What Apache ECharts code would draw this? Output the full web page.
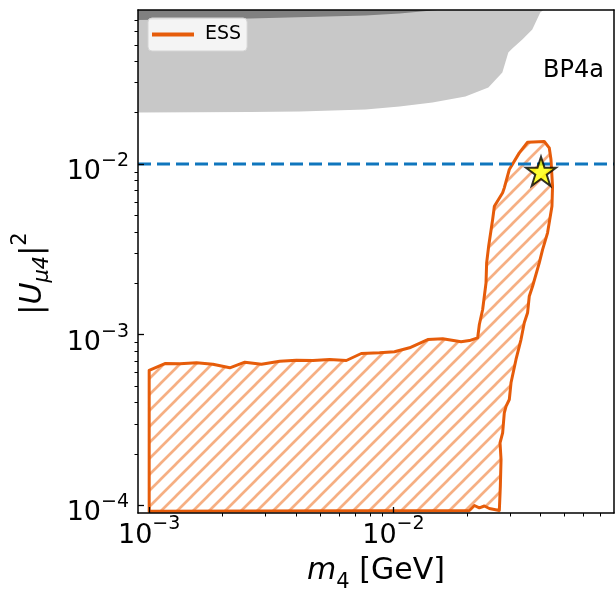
<!DOCTYPE html>
<html>
<head>
<meta charset="utf-8">
<script src="https://cdn.jsdelivr.net/npm/echarts@6/dist/echarts.min.js"></script>
<style>
html,body{margin:0;padding:0;background:#fff;}
#chart{width:616px;height:589px;}
</style>
</head>
<body>
<div id="chart"></div>
<script>
// ---- axis limits (data units) ----
const xLimits = [9e-4, 0.08];
const yLimits = [9e-5, 0.08];
const xMajorTicks = [1e-3, 1e-2];
const yMajorTicks = [1e-4, 1e-3, 1e-2];
const xMinorTicks = [2e-3,3e-3,4e-3,5e-3,6e-3,7e-3,8e-3,9e-3,2e-2,3e-2,4e-2,5e-2,6e-2,7e-2];
const yMinorTicks = [2e-4,3e-4,4e-4,5e-4,6e-4,7e-4,8e-4,9e-4,2e-3,3e-3,4e-3,5e-3,6e-3,7e-3,8e-3,9e-3,2e-2,3e-2,4e-2,5e-2,6e-2,7e-2];

// ---- ESS sensitivity contour (m4 [GeV], |U|^2) ----
const essX = [1.0e-3,1.0e-3,1.16e-3,1.336e-3,1.564e-3,1.823e-3,2.139e-3,2.464e-3,2.882e-3,3.424e-3,4.007e-3,4.685e-3,5.482e-3,6.414e-3,7.386e-3,8.775e-3,1.010e-2,1.164e-2,1.382e-2,1.592e-2,1.892e-2,2.047e-2,2.213e-2,2.248e-2,2.319e-2,2.394e-2,2.408e-2,2.454e-2,2.548e-2,2.590e-2,2.800e-2,2.844e-2,2.982e-2,3.276e-2,3.542e-2,4.146e-2,4.345e-2,4.416e-2,4.482e-2,4.457e-2,4.276e-2,4.080e-2,3.955e-2,3.713e-2,3.599e-2,3.542e-2,3.434e-2,3.329e-2,3.176e-2,3.030e-2,2.982e-2,2.891e-2,2.844e-2,2.800e-2,2.732e-2,2.758e-2,2.740e-2,2.714e-2,2.470e-2,2.357e-2,2.248e-2,2.145e-2,2.047e-2];
const essY = [9.2e-5,6.18e-4,6.77e-4,6.74e-4,6.83e-4,6.71e-4,6.39e-4,6.89e-4,6.71e-4,6.98e-4,7.08e-4,7.05e-4,7.15e-4,7.05e-4,7.75e-4,7.82e-4,7.93e-4,8.37e-4,9.36e-4,9.45e-4,9.08e-4,9.23e-4,9.58e-4,1.146e-3,1.403e-3,2.012e-3,2.636e-3,3.297e-3,4.728e-3,5.657e-3,6.78e-3,7.25e-3,9.29e-3,1.163e-2,1.342e-2,1.355e-2,1.245e-2,1.063e-2,7.41e-3,5.657e-3,3.95e-3,3.15e-3,2.636e-3,1.922e-3,1.679e-3,1.342e-3,1.173e-3,9.36e-4,7.15e-4,5.22e-4,4.165e-4,3.80e-4,3.48e-4,2.657e-4,2.321e-4,1.853e-4,1.292e-4,9.31e-5,9.56e-5,9.89e-5,9.65e-5,9.96e-5,9.31e-5];

// ---- excluded regions (light and dark grey), lower boundaries ----
const lightX = [9e-4,2.582e-3,4.134e-3,7.69e-3,1.059e-2,1.445e-2,1.971e-2,2.447e-2,2.792e-2,2.954e-2,3.067e-2,3.371e-2,3.703e-2,3.992e-2,4.106e-2];
const lightY = [2.004e-2,2.018e-2,2.03e-2,2.087e-2,2.173e-2,2.294e-2,2.487e-2,2.808e-2,3.438e-2,4.504e-2,4.754e-2,5.368e-2,6.143e-2,7.73e-2,8.0e-2];
const darkX = [9e-4,2.582e-3,7.69e-3,1.059e-2,1.514e-2];
const darkY = [7.0e-2,7.14e-2,7.43e-2,7.62e-2,8.0e-2];

// ---- benchmark point and reference line ----
const starX = [0.0402];
const starY = [0.00907];
const refLineY = 0.01;

const L = Math.log10;
const FONT = 'DejaVu Sans';
const ORANGE = '#e65c0a';

// hatch pattern
const hatch = document.createElement('canvas');
hatch.width = 16; hatch.height = 16;
(function(){
  const c = hatch.getContext('2d');
  c.strokeStyle = 'rgba(238,110,30,0.55)';
  c.lineWidth = 2.7;
  c.beginPath();
  c.moveTo(-2,18); c.lineTo(18,-2);
  c.moveTo(-10,10); c.lineTo(10,-10);
  c.moveTo(6,26); c.lineTo(26,6);
  c.stroke();
})();

function polySeries(name, xs, ys, extra, style, z) {
  return {
    type: 'custom', name: name, z: z, silent: true, clip: true,
    xAxisIndex: 0, yAxisIndex: 0,
    data: [[L(xs[0]), L(ys[0])]],
    renderItem: function (params, api) {
      const pts = xs.map((x, i) => api.coord([L(x), L(ys[i])]));
      extra.forEach(p => pts.push(api.coord([L(p[0]), L(p[1])])));
      return { type: 'polygon', shape: { points: pts }, style: style };
    }
  };
}

function powLabel(v) {
  const e = Math.round(v);
  return '{b|10}{s|\u2212' + Math.abs(e) + '}';
}
const xTickRich = {
  b: { fontSize: 27, lineHeight: 27, fontFamily: FONT, color: '#000', padding: [7, 0, 0, 0], verticalAlign: 'top' },
  s: { fontSize: 19, lineHeight: 19, fontFamily: FONT, color: '#000', verticalAlign: 'top' }
};
const yTickRich = {
  b: { fontSize: 27, lineHeight: 27, fontFamily: FONT, color: '#000', padding: [8, 0, 0, 0], verticalAlign: 'top' },
  s: { fontSize: 19, lineHeight: 19, fontFamily: FONT, color: '#000', padding: [1, 0, 0, 0], verticalAlign: 'top' }
};

const xMin = L(xLimits[0]), xMax = L(xLimits[1]);
const yMin = L(yLimits[0]), yMax = L(yLimits[1]);

const chart = echarts.init(document.getElementById('chart'), null, { renderer: 'canvas' });
chart.setOption({
  animation: false,
  backgroundColor: '#fff',
  title: {
    text: 'BP4a', left: 543, top: 59, padding: 0,
    textStyle: { fontSize: 24, fontWeight: 'normal', fontFamily: FONT, color: '#000' }
  },
  legend: {
    left: 148, top: 18, padding: [7, 6, 7, 4], selectedMode: false,
    itemWidth: 42, itemHeight: 4,
    backgroundColor: 'rgba(255,255,255,0.8)', borderColor: '#d4d4d4', borderWidth: 1, borderRadius: 4,
    data: [{ name: 'ESS', icon: 'rect', itemStyle: { color: ORANGE } }],
    textStyle: { fontSize: 19, fontFamily: FONT, color: '#000', padding: [0, 0, 0, 6] }
  },
  grid: { left: 138, right: 2, top: 10, bottom: 76, containLabel: false, outerBoundsMode: 'none' },
  xAxis: [
    {
      type: 'value', min: xMin, max: xMax, position: 'bottom', z: 10,
      axisLine: { show: true, onZero: false, lineStyle: { color: '#000', width: 1.5 } },
      axisTick: { show: true, inside: true, length: 6, customValues: xMajorTicks.map(L), lineStyle: { color: '#000', width: 1.3 } },
      axisLabel: { show: true, margin: 2, customValues: xMajorTicks.map(L), formatter: powLabel, rich: xTickRich },
      splitLine: { show: false },
      name: '{i|m}{s|4}{n| [GeV]}', nameLocation: 'middle', nameGap: 43,
      nameTextStyle: {
        rich: {
          i: { fontSize: 30, lineHeight: 30, fontStyle: 'italic', fontFamily: FONT, color: '#000', padding: [0, 0, 8, 0], verticalAlign: 'top' },
          s: { fontSize: 21, lineHeight: 21, fontFamily: FONT, color: '#000', padding: [16, 0, 0, 0], verticalAlign: 'top' },
          n: { fontSize: 30, lineHeight: 30, fontFamily: FONT, color: '#000', padding: [0, 0, 8, 0], verticalAlign: 'top' }
        }
      }
    },
    {
      type: 'value', min: xMin, max: xMax, position: 'bottom', z: 10,
      axisLine: { show: false, onZero: false },
      axisTick: { show: true, inside: false, length: 3.5, customValues: xMinorTicks.map(L), lineStyle: { color: '#000', width: 1 } },
      axisLabel: { show: false }, splitLine: { show: false }
    },
    {
      type: 'value', min: xMin, max: xMax, position: 'top', z: 10,
      axisLine: { show: true, onZero: false, lineStyle: { color: '#000', width: 1.5 } },
      axisTick: { show: false }, axisLabel: { show: false }, splitLine: { show: false }
    }
  ],
  yAxis: [
    {
      type: 'value', min: yMin, max: yMax, position: 'left', z: 10,
      axisLine: { show: true, onZero: false, lineStyle: { color: '#000', width: 1.5 } },
      axisTick: { show: true, inside: true, length: 6, customValues: yMajorTicks.map(L), lineStyle: { color: '#000', width: 1.3 } },
      axisLabel: { show: true, margin: 9, customValues: yMajorTicks.map(L), formatter: powLabel, rich: yTickRich },
      splitLine: { show: false },
      name: '{n||}{i|U}{s|\u03bc4}{n||}{p|2}', nameLocation: 'middle', nameGap: 82, nameRotate: 90,
      nameTextStyle: {
        rich: {
          n: { fontSize: 30, lineHeight: 30, fontFamily: FONT, color: '#000', padding: [8, 0, 8, 0], verticalAlign: 'top' },
          i: { fontSize: 30, lineHeight: 30, fontStyle: 'italic', fontFamily: FONT, color: '#000', padding: [8, 0, 8, 0], verticalAlign: 'top' },
          s: { fontSize: 21, lineHeight: 21, fontStyle: 'italic', fontFamily: FONT, color: '#000', padding: [22, 0, 0, 0], verticalAlign: 'top' },
          p: { fontSize: 21, lineHeight: 21, fontFamily: FONT, color: '#000', padding: [0, 24, 0, 0], verticalAlign: 'top' }
        }
      }
    },
    {
      type: 'value', min: yMin, max: yMax, position: 'left', z: 10,
      axisLine: { show: false, onZero: false },
      axisTick: { show: true, inside: false, length: 3.5, customValues: yMinorTicks.map(L), lineStyle: { color: '#000', width: 1 } },
      axisLabel: { show: false }, splitLine: { show: false }
    },
    {
      type: 'value', min: yMin, max: yMax, position: 'right', z: 10,
      axisLine: { show: true, onZero: false, lineStyle: { color: '#000', width: 1.5 } },
      axisTick: { show: false }, axisLabel: { show: false }, splitLine: { show: false }
    }
  ],
  series: [
    polySeries('lightGrey', lightX, lightY, [[xLimits[0], yLimits[1]]], { fill: '#c8c8c8', stroke: null }, 1),
    polySeries('darkGrey', darkX, darkY, [[xLimits[0], yLimits[1]]], { fill: '#808080', stroke: null }, 2),
    polySeries('ESS', essX, essY, [], {
      fill: { image: hatch, repeat: 'repeat' },
      stroke: ORANGE, lineWidth: 3, lineJoin: 'round'
    }, 3),
    {
      type: 'line', name: 'ref', z: 4, silent: true, symbol: 'none',
      data: [[xMin, L(refLineY)], [xMax, L(refLineY)]],
      lineStyle: { color: '#0f76bd', width: 3, type: [13, 6] }
    },
    {
      type: 'scatter', name: 'BP', z: 5, silent: true,
      data: starX.map((x, i) => [L(x), L(starY[i])]),
      symbol: 'path://M50,0 L61.2,34.5 L97.6,34.5 L68.2,55.9 L79.4,90.5 L50,69.1 L20.6,90.5 L31.8,55.9 L2.4,34.5 L38.8,34.5 Z',
      symbolSize: [30, 29],
      itemStyle: { color: '#ffff00', borderColor: '#000', borderWidth: 2 }
    }
  ]
});
</script>
</body>
</html>
